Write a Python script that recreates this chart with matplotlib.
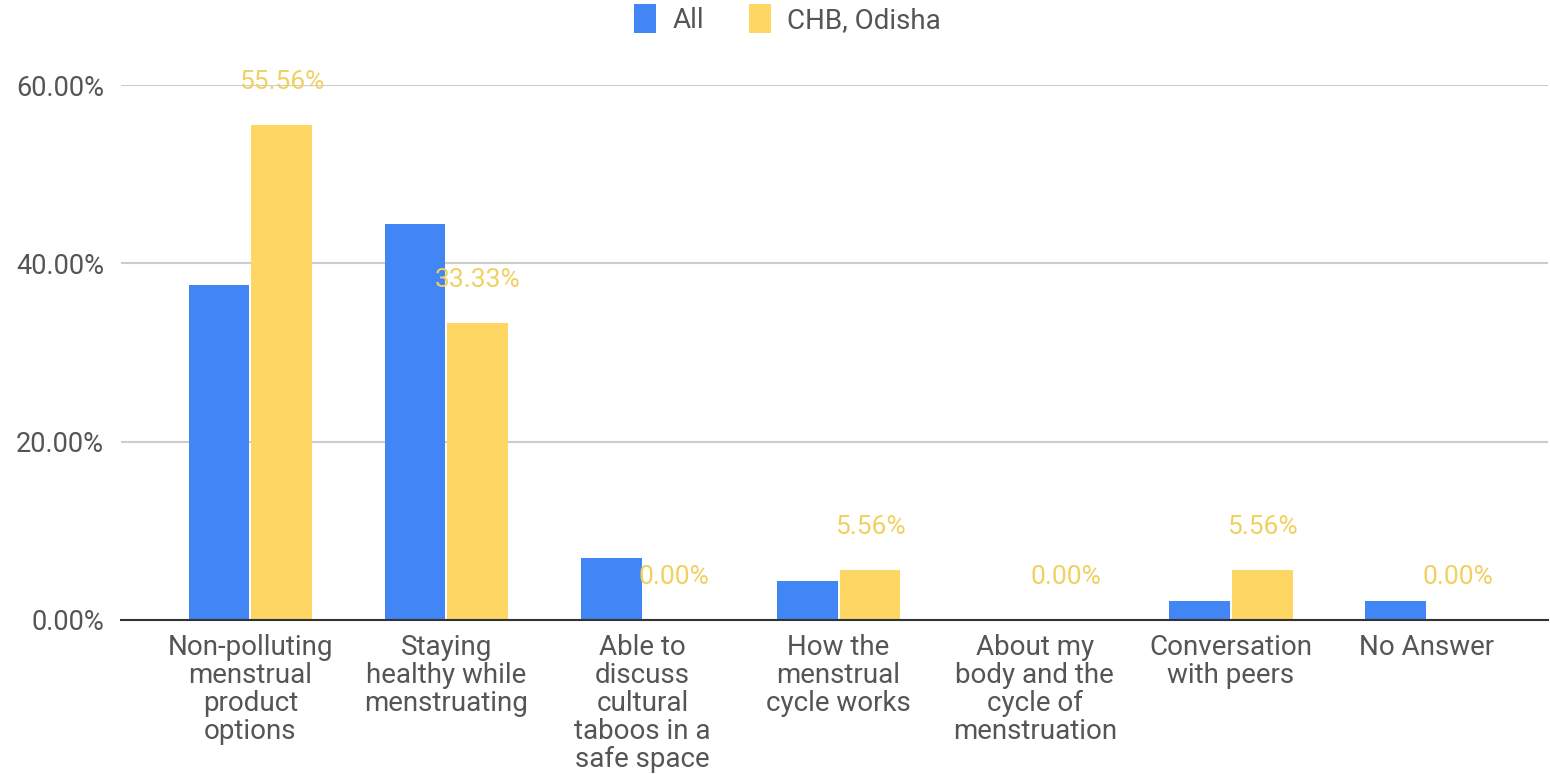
import numpy as np
import matplotlib.pyplot as plt

categories = ["Non-polluting\nmenstrual\nproduct\noptions",
              "Staying\nhealthy while\nmenstruating",
              "Able to\ndiscuss\ncultural\ntaboos in a\nsafe space",
              "How the\nmenstrual\ncycle works",
              "About my\nbody and the\ncycle of\nmenstruation",
              "Conversation\nwith peers",
              "No Answer"]
all_vals = [37.6, 44.4, 6.9, 4.4, 0.0, 2.1, 2.1]
chb_vals = [55.56, 33.33, 0.00, 5.56, 0.00, 5.56, 0.00]
yticks = [0, 20, 40, 60]

plt.rcParams['font.family'] = ['Roboto', 'DejaVu Sans']

blue = '#4285f4'
yellow = '#fdd663'

fig = plt.figure(figsize=(15.5, 7.74), dpi=100)
ax = fig.add_axes([0.078, 0.199, 0.921, 0.691])

x = np.arange(len(categories))
w = 0.31
b1 = ax.bar(x - w / 2 - 0.005, all_vals, w, color=blue, label='All')
b2 = ax.bar(x + w / 2 + 0.005, chb_vals, w, color=yellow, label='CHB, Odisha')

for xi, v in zip(x + w / 2 + 0.005, chb_vals):
    ax.annotate(f"{v:.2f}%", (xi, v), xytext=(0, 31), textcoords='offset points',
                ha='center', va='center', color='#f0d160', fontsize=19)

ax.set_xlim(-0.66, 6.62)
ax.set_ylim(0, 60)
ax.set_yticks(yticks)
ax.set_yticklabels([f"{t:.2f}%" for t in yticks], fontsize=19.5, color='#555555')
ax.set_xticks(x)
ax.set_xticklabels(categories, fontsize=20, color='#555555', va='top', linespacing=1.05)
ax.tick_params(axis='both', length=0)
ax.tick_params(axis='x', pad=10)
ax.tick_params(axis='y', pad=12)
ax.grid(axis='y', color='#cccccc', linewidth=1.5)
ax.set_axisbelow(True)
for s in ['top', 'right', 'left']:
    ax.spines[s].set_visible(False)
ax.spines['bottom'].set_color('#333333')
ax.spines['bottom'].set_linewidth(1.5)
ax.spines['bottom'].set_zorder(5)

leg = fig.legend(handles=[b1, b2], loc='upper center', bbox_to_anchor=(0.508, 1.027),
                 ncol=2, frameon=False, fontsize=20, handlelength=0.8, handleheight=1.2,
                 columnspacing=1.6, handletextpad=0.6, labelcolor='#555555')

fig.savefig('out.png', dpi=100)
